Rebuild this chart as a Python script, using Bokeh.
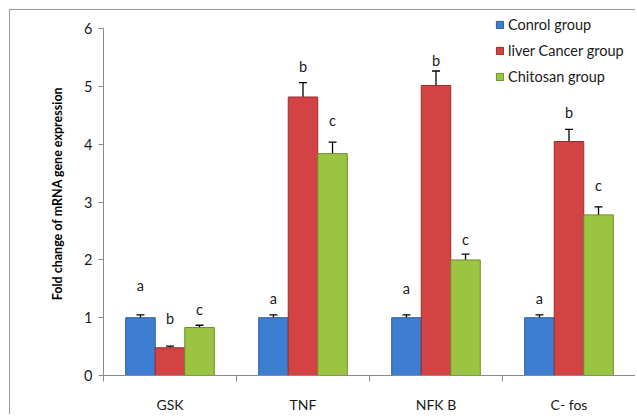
from bokeh.plotting import figure
from bokeh.models import (ColumnDataSource, Whisker, TeeHead, Legend, LegendItem,
                          FixedTicker, Range1d)
from bokeh.core.properties import value
from bokeh.embed import file_html
from bokeh.resources import INLINE

genes = ["GSK", "TNF", "NFK B", "C- fos"]
series = ["Conrol group", "liver Cancer group", "Chitosan group"]
control = [1.0, 1.0, 1.0, 1.0]
control_err = [0.05, 0.05, 0.05, 0.05]
cancer = [0.48, 4.82, 5.02, 4.05]
cancer_err = [0.03, 0.25, 0.25, 0.21]
chitosan = [0.83, 3.84, 2.0, 2.78]
chitosan_err = [0.04, 0.20, 0.10, 0.14]
letters_control = ["a", "a", "a", "a"]
letters_control_y = [1.55, 1.34, 1.50, 1.34]
letters_cancer = ["b", "b", "b", "b"]
letters_cancer_y = [0.98, 5.34, 5.45, 4.55]
letters_chitosan = ["c", "c", "c", "c"]
letters_chitosan_y = [1.14, 4.41, 2.36, 3.29]
y_ticks = [0, 1, 2, 3, 4, 5, 6]

fills = ["#3D7DD2", "#D34343", "#9CC443"]
edges = ["#2A5C9E", "#9A2C2C", "#6D8E2A"]

FONT = "Lato"
n = len(genes)
bw = 0.222
offsets = [-bw, 0.0, bw]

p = figure(width=626, height=405, output_backend="svg", toolbar_location=None,
           x_range=Range1d(0, n), y_range=Range1d(0, 6.3),
           min_border_left=93, min_border_right=1, min_border_top=1,
           min_border_bottom=37)
p.styles = {"border-left": "1.5px solid #9a9a9a", "border-top": "1.5px solid #9a9a9a",
            "margin-left": "9px", "margin-top": "9px"}
p.outline_line_color = None
p.grid.visible = False
p.background_fill_color = "white"
p.border_fill_color = "white"

vals = [control, cancer, chitosan]
errs = [control_err, cancer_err, chitosan_err]
letters = [letters_control, letters_cancer, letters_chitosan]
letters_y = [letters_control_y, letters_cancer_y, letters_chitosan_y]

renderers = []
for k in range(3):
    xs = [i + 0.5 + offsets[k] for i in range(n)]
    v = vals[k]
    e = errs[k]
    src = ColumnDataSource(dict(x=xs, top=v, lo=[a - b for a, b in zip(v, e)],
                                hi=[a + b for a, b in zip(v, e)],
                                ly=letters_y[k], lt=letters[k]))
    r = p.vbar(x="x", top="top", bottom=0, width=bw, source=src,
               fill_color=fills[k], line_color=edges[k], line_width=1)
    renderers.append(r)
    w = Whisker(base="x", lower="lo", upper="hi", source=src, line_color="black",
                line_width=1.3,
                upper_head=TeeHead(size=8, line_color="black", line_width=1.3),
                lower_head=TeeHead(size=8, line_color="black", line_width=1.3))
    p.add_layout(w)
    p.text(x="x", y="ly", text="lt", source=src, text_align="center",
           text_baseline="middle", text_font=value(FONT), text_font_size="14.5px",
           text_color="#1a1a1a")

# axes
p.yaxis.ticker = FixedTicker(ticks=y_ticks)
p.yaxis.bounds = (0, 6)
p.yaxis.axis_line_color = "#8a8a8a"
p.yaxis.major_tick_line_color = "#8a8a8a"
p.yaxis.major_tick_out = 5
p.yaxis.major_tick_in = 0
p.yaxis.minor_tick_line_color = None
p.yaxis.major_label_text_font = FONT
p.yaxis.major_label_text_font_size = "14.5px"
p.yaxis.major_label_text_color = "#1a1a1a"
p.yaxis.major_label_standoff = 6
p.yaxis.axis_label = "Fold change of mRNA gene expression"
p.yaxis.axis_label_text_font = FONT
p.yaxis.axis_label_text_font_size = "12.5px"
p.yaxis.axis_label_text_font_style = "bold"
p.yaxis.axis_label_text_color = "black"
p.yaxis.axis_label_standoff = 16

p.xaxis.ticker = FixedTicker(ticks=[i + 0.5 for i in range(n)],
                             minor_ticks=list(range(n + 1)))
p.xaxis.major_label_overrides = {i + 0.5: g for i, g in enumerate(genes)}
p.xaxis.axis_line_color = "#8a8a8a"
p.xaxis.major_tick_line_color = None
p.xaxis.minor_tick_line_color = "#8a8a8a"
p.xaxis.minor_tick_out = 6
p.xaxis.minor_tick_in = 0
p.xaxis.major_label_text_font = FONT
p.xaxis.major_label_text_font_size = "14px"
p.xaxis.major_label_text_color = "#1a1a1a"
p.xaxis.major_label_standoff = 14

legend = Legend(items=[LegendItem(label=series[k], renderers=[renderers[k]]) for k in range(3)],
                location=(392, 289), padding=0, margin=0, spacing=6,
                glyph_width=9, glyph_height=9, label_standoff=4, label_height=20,
                label_text_font=FONT, label_text_font_size="14.5px",
                label_text_color="#1a1a1a", border_line_color=None,
                background_fill_alpha=0)
p.add_layout(legend)

open("out.html", "w").write(file_html(p, INLINE))
